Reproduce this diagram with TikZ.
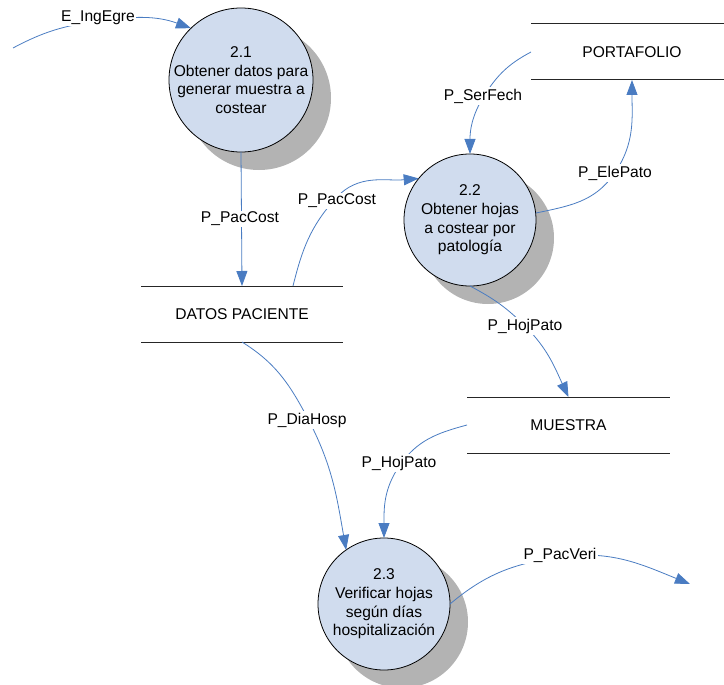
\documentclass[tikz,border=0pt]{standalone}
\usepackage{fontspec}
\setmainfont{Liberation Sans}
\usetikzlibrary{arrows.meta}

\definecolor{bubblefill}{RGB}{208,220,238}
\definecolor{shadowgray}{RGB}{179,179,179}
\definecolor{flowblue}{RGB}{74,124,194}

\tikzset{
  dfdfont/.style={font=\fontsize{15.6}{18.7}\selectfont},
  proc/.style={circle, draw=black, line width=0.8pt, fill=bubblefill,
    inner sep=0pt, outer sep=0pt},
  proctext/.style={dfdfont, align=center, inner sep=0pt},
  procshadow/.style={fill=shadowgray, draw=none},
  store/.style={dfdfont, minimum height=56pt, inner sep=0pt, outer sep=0pt},
  storeline/.style={black!85, line width=1pt},
  flow/.style={flowblue, line width=0.8pt,
    -{Triangle[length=15pt,width=11pt]}},
  flowlabel/.style={dfdfont, fill=white, inner sep=1.5pt},
}

\begin{document}
\begin{tikzpicture}[x=1pt,y=1pt]
  \useasboundingbox (0,0) rectangle (724,-685);
  \clip (0,0) rectangle (724,-685);

  % shadows behind the processes
  \fill[procshadow] (259,-98) circle (72);
  \fill[procshadow] (488,-238) circle (66);
  \fill[procshadow] (402,-622) circle (66);

  % processes
  \node[proc, minimum size=144pt,
        label={[proctext]center:2.1\\Obtener datos para\\generar muestra a\\costear}]
        (c21) at (241,-80) {};
  \node[proc, minimum size=132pt,
        label={[proctext]center:2.2\\Obtener hojas\\a costear por\\patología}]
        (c22) at (470,-220) {};
  \node[proc, minimum size=132pt,
        label={[proctext]center:2.3\\Verificar hojas\\según días\\hospitalización}]
        (c23) at (384,-604) {};

  % data stores
  \node[store, minimum width=202pt] (ds1) at (242,-314) {DATOS PACIENTE};
  \node[store, minimum width=202pt] (ds2) at (632,-52) {PORTAFOLIO};
  \node[store, minimum width=203pt] (ds3) at (568.5,-425) {MUESTRA};
  \foreach \s in {ds1,ds2,ds3}{
    \draw[storeline] (\s.north west) -- (\s.north east);
    \draw[storeline] (\s.south west) -- (\s.south east);
  }

  % free ends and pass-through points of the flows
  \coordinate (ein) at (13,-48);
  \coordinate (eout) at (690,-584);
  \coordinate (v1) at (98,-21);
  \coordinate (v3) at (336,-198);
  \coordinate (v4) at (484,-96);
  \coordinate (v5) at (614,-174);
  \coordinate (v6) at (525,-326);
  \coordinate (v7) at (307,-417);
  \coordinate (v8) at (400,-465);
  \coordinate (v9) at (560,-557);

  % data flows
  \draw[flow] (ein) to[out=28,in=188] (v1) to[out=8,in=160] (c21.134);
  \draw[flow] (c21.south) -- (ds1.north);
  \draw[flow] ([xshift=51pt]ds1.north) to[out=76,in=228] (v3)
              to[out=48,in=185] (c22.141);
  \draw[flow] (ds2.west) to[out=208,in=58] (v4) to[out=238,in=90] (c22.north);
  \draw[flow] (c22.6) to[out=12,in=235] (v5) to[out=55,in=270] (ds2.south);
  \draw[flow] (c22.south) to[out=-28,in=135] (v6) to[out=-45,in=115] (ds3.north);
  \draw[flow] (ds1.south) to[out=-32,in=118] (v7) to[out=-62,in=100] (c23.125);
  \draw[flow] (ds3.west) to[out=195,in=55] (v8) to[out=235,in=90] (c23.north);
  \draw[flow] (c23.east) to[out=40,in=188] (v9) to[out=8,in=158] (eout);

  % flow labels
  \node[flowlabel] (l1) at (98,-18) {E\_IngEgre};
  \node[flowlabel] (l2) at (240,-219) {P\_PacCost};
  \node[flowlabel] (l3) at (337,-201) {P\_PacCost};
  \node[flowlabel] (l4) at (483,-96) {P\_SerFech};
  \node[flowlabel] (l5) at (615,-173) {P\_ElePato};
  \node[flowlabel] (l6) at (525,-326) {P\_HojPato};
  \node[flowlabel] (l7) at (307,-420) {P\_DiaHosp};
  \node[flowlabel] (l8) at (399,-463) {P\_HojPato};
  \node[flowlabel] (l9) at (560,-555) {P\_PacVeri};
\end{tikzpicture}
\end{document}
